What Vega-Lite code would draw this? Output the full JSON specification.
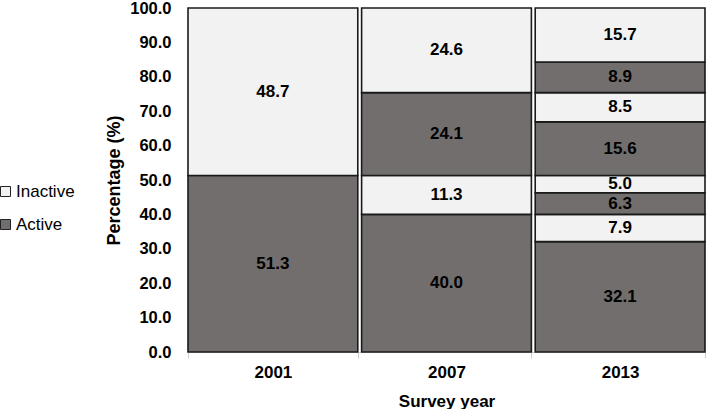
{
  "$schema": "https://vega.github.io/schema/vega-lite/v6.json",
  "autosize": {"type": "none"},
  "width": 517,
  "height": 344,
  "padding": {"left": 188, "top": 8, "right": 4, "bottom": 57},
  "background": "white",
  "config": {
    "font": "Liberation Sans",
    "view": {"stroke": null},
    "axisY": {
      "labelOverlap": false,
      "grid": false,
      "domain": false,
      "ticks": false,
      "labelFont": "Liberation Sans",
      "labelFontSize": 16.5,
      "labelFontWeight": "bold",
      "labelColor": "black",
      "labelPadding": 17,
      "titleFont": "Liberation Sans",
      "titleFontSize": 18,
      "titleFontWeight": "bold",
      "titleColor": "black",
      "titlePadding": 6
    },
    "axisX": {
      "labelAngle": 0,
      "labelFont": "Liberation Sans",
      "labelFontSize": 17,
      "labelFontWeight": "bold",
      "labelColor": "black",
      "labelPadding": 6,
      "tickBand": "extent",
      "ticks": true,
      "tickColor": "#d0d0d0",
      "tickSize": 6,
      "domainColor": "#d0d0d0",
      "domainWidth": 1,
      "titleFont": "Liberation Sans",
      "titleFontSize": 17,
      "titleFontWeight": "bold",
      "titleColor": "black",
      "titlePadding": 13
    }
  },
  "data": {
    "values": [
      {"year": "2001", "seg": 1, "status": "Active", "pct": 51.3},
      {"year": "2001", "seg": 2, "status": "Inactive", "pct": 48.7},
      {"year": "2007", "seg": 1, "status": "Active", "pct": 40.0},
      {"year": "2007", "seg": 2, "status": "Inactive", "pct": 11.3},
      {"year": "2007", "seg": 3, "status": "Active", "pct": 24.1},
      {"year": "2007", "seg": 4, "status": "Inactive", "pct": 24.6},
      {"year": "2013", "seg": 1, "status": "Active", "pct": 32.1},
      {"year": "2013", "seg": 2, "status": "Inactive", "pct": 7.9},
      {"year": "2013", "seg": 3, "status": "Active", "pct": 6.3},
      {"year": "2013", "seg": 4, "status": "Inactive", "pct": 5.0},
      {"year": "2013", "seg": 5, "status": "Active", "pct": 15.6},
      {"year": "2013", "seg": 6, "status": "Inactive", "pct": 8.5},
      {"year": "2013", "seg": 7, "status": "Active", "pct": 8.9},
      {"year": "2013", "seg": 8, "status": "Inactive", "pct": 15.7}
    ]
  },
  "transform": [
    {"stack": "pct", "groupby": ["year"], "sort": [{"field": "seg", "order": "ascending"}], "as": ["v0", "v1"]}
  ],
  "layer": [
    {
      "mark": {"type": "bar", "stroke": "#1a1a1a", "strokeWidth": 1.6},
      "encoding": {
        "x": {
          "field": "year", "type": "nominal",
          "scale": {"paddingInner": 0.022, "paddingOuter": 0},
          "axis": {"title": "Survey year"}
        },
        "y": {
          "field": "v0", "type": "quantitative",
          "scale": {"domain": [0, 100], "nice": false},
          "axis": {
            "title": "Percentage (%)",
            "values": [0, 10, 20, 30, 40, 50, 60, 70, 80, 90, 100],
            "format": ".1f"
          }
        },
        "y2": {"field": "v1"},
        "color": {
          "field": "status", "type": "nominal",
          "scale": {"domain": ["Inactive", "Active"], "range": ["#f2f2f2", "#726e6e"]},
          "legend": {
            "title": null,
            "orient": "none",
            "legendX": -191,
            "legendY": 175,
            "symbolType": "square",
            "symbolSize": 100,
            "symbolStrokeColor": "#222222",
            "symbolStrokeWidth": 1,
            "labelFont": "Liberation Sans",
            "labelFontSize": 17,
            "labelColor": "black",
            "labelOffset": 2,
            "rowPadding": 15
          }
        }
      }
    },
    {
      "transform": [
        {"fold": ["v0", "v1"], "as": ["edge", "pos"]},
        {"aggregate": [{"op": "mean", "field": "pos", "as": "mid"}], "groupby": ["year", "seg", "pct"]}
      ],
      "mark": {"type": "text", "font": "Liberation Sans", "fontSize": 17, "fontWeight": "bold", "color": "black", "baseline": "middle"},
      "encoding": {
        "x": {"field": "year", "type": "nominal", "axis": {"title": "Survey year"}},
        "y": {
          "field": "mid", "type": "quantitative",
          "axis": {
            "title": "Percentage (%)",
            "values": [0, 10, 20, 30, 40, 50, 60, 70, 80, 90, 100],
            "format": ".1f"
          }
        },
        "text": {"field": "pct", "type": "quantitative", "format": ".1f"}
      }
    }
  ]
}
